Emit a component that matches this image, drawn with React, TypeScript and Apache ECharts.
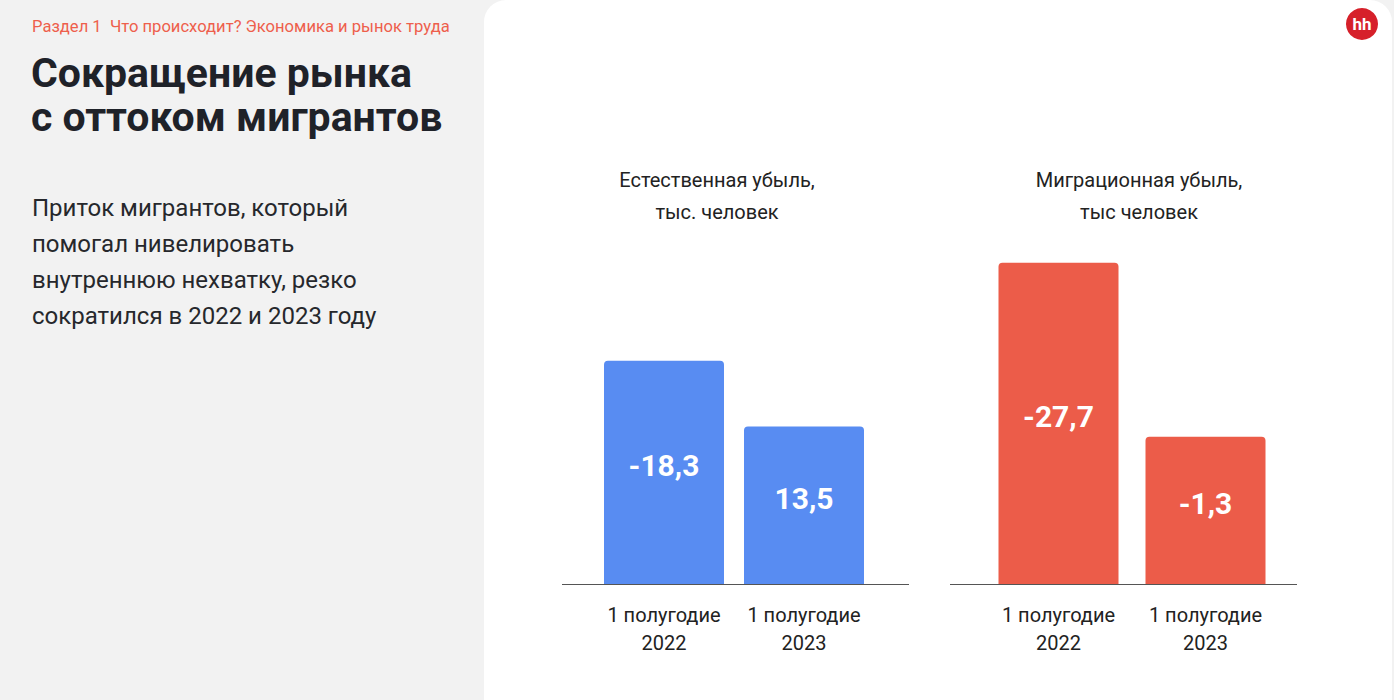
import React, { useEffect, useRef } from "react";
import * as echarts from "echarts";

const categories = ["1 полугодие\n2022", "1 полугодие\n2023"];
// Values printed on the bars
const naturalLabels = ["-18,3", "13,5"];
const migrationLabels = ["-27,7", "-1,3"];
// Bar lengths as drawn in the picture (not proportional to printed values)
const naturalHeights = [18.3, 12.9];
const migrationHeights = [27.7, 12.7];

const naturalTitle = "Естественная убыль,\nтыс. человек";
const migrationTitle = "Миграционная убыль,\nтыс человек";
const sectionText = "Раздел 1  Что происходит? Экономика и рынок труда";
const headline = "Сокращение рынка\nс оттоком мигрантов";
const bodyText = "Приток мигрантов, который\nпомогал нивелировать\nвнутреннюю нехватку, резко\nсократился в 2022 и 2023 году";

const FONT = "Roboto, 'Noto Sans', sans-serif";

export default function App() {
  const ref = useRef<HTMLDivElement>(null);
  useEffect(() => {
    if (!ref.current) return;
    const chart = echarts.init(ref.current, undefined, { renderer: "svg" });
    const axisLabel = {
      fontSize: 20,
      lineHeight: 28,
      color: "#222",
      fontFamily: FONT,
      margin: 17,
      interval: 0,
      hideOverlap: false,
    };
    const barLabel = (labels: string[]) => ({
      show: true,
      position: "inside",
      offset: [0, -7],
      color: "#fff",
      fontSize: 30,
      fontWeight: "bold",
      fontFamily: FONT,
      formatter: (p: any) => labels[p.dataIndex],
    });
    const titleStyle = { fontSize: 20, lineHeight: 32, fontWeight: "normal", color: "#222", fontFamily: FONT };
    chart.setOption({
      animation: false,
      backgroundColor: "#f2f2f2",
      textStyle: { fontFamily: FONT },
      title: [
        { text: naturalTitle, left: 712, top: 159, textAlign: "center", textStyle: titleStyle },
        { text: migrationTitle, left: 1134, top: 159, textAlign: "center", textStyle: titleStyle },
      ],
      grid: [
        { left: 594, width: 280, top: 250, height: 334 },
        { left: 985, width: 294, top: 250, height: 334 },
      ],
      xAxis: [
        { type: "category", gridIndex: 0, data: categories, axisLine: { show: false }, axisTick: { show: false }, axisLabel },
        { type: "category", gridIndex: 1, data: categories, axisLine: { show: false }, axisTick: { show: false }, axisLabel },
      ],
      yAxis: [
        { type: "value", gridIndex: 0, min: 0, max: 27.37, show: false, splitLine: { show: false } },
        { type: "value", gridIndex: 1, min: 0, max: 28.79, show: false, splitLine: { show: false } },
      ],
      series: [
        {
          type: "bar",
          xAxisIndex: 0,
          yAxisIndex: 0,
          data: naturalHeights,
          barWidth: 120,
          itemStyle: { color: "#588cf2", borderRadius: [4, 4, 0, 0] },
          label: barLabel(naturalLabels),
          z: 5,
        },
        {
          type: "bar",
          xAxisIndex: 1,
          yAxisIndex: 1,
          data: migrationHeights,
          barWidth: 120,
          itemStyle: { color: "#ec5c49", borderRadius: [4, 4, 0, 0] },
          label: barLabel(migrationLabels),
          z: 5,
        },
      ],
      graphic: [
        {
          type: "rect",
          z: -10,
          shape: { x: 484, y: 0, width: 908, height: 720, r: [22, 22, 0, 0] },
          style: { fill: "#ffffff" },
          silent: true,
        },
        { type: "line", z: 10, shape: { x1: 562, y1: 584.5, x2: 909, y2: 584.5 }, style: { stroke: "#555", lineWidth: 1 } },
        { type: "line", z: 10, shape: { x1: 950, y1: 584.5, x2: 1297, y2: 584.5 }, style: { stroke: "#555", lineWidth: 1 } },
        { type: "circle", z: 10, shape: { cx: 1362, cy: 24, r: 16 }, style: { fill: "#d6202a" } },
        {
          type: "text",
          z: 11,
          x: 1362,
          y: 24,
          style: { text: "hh", fill: "#fff", font: "bold 17px " + FONT, textAlign: "center", textVerticalAlign: "middle" },
        },
        {
          type: "text",
          x: 32,
          y: 18,
          style: { text: sectionText, fill: "#ee5f4c", font: "16.6px " + FONT },
        },
        {
          type: "text",
          x: 31,
          y: 51,
          style: { text: headline, fill: "#1f2229", font: "bold 41px " + FONT, lineHeight: 44 },
        },
        {
          type: "text",
          x: 32,
          y: 190,
          style: { text: bodyText, fill: "#26282c", font: "24px " + FONT, lineHeight: 36 },
        },
      ],
    });
    return () => chart.dispose();
  }, []);
  return <div ref={ref} style={{ position: "fixed", left: 0, top: 0, width: 1394, height: 700 }} />;
}
